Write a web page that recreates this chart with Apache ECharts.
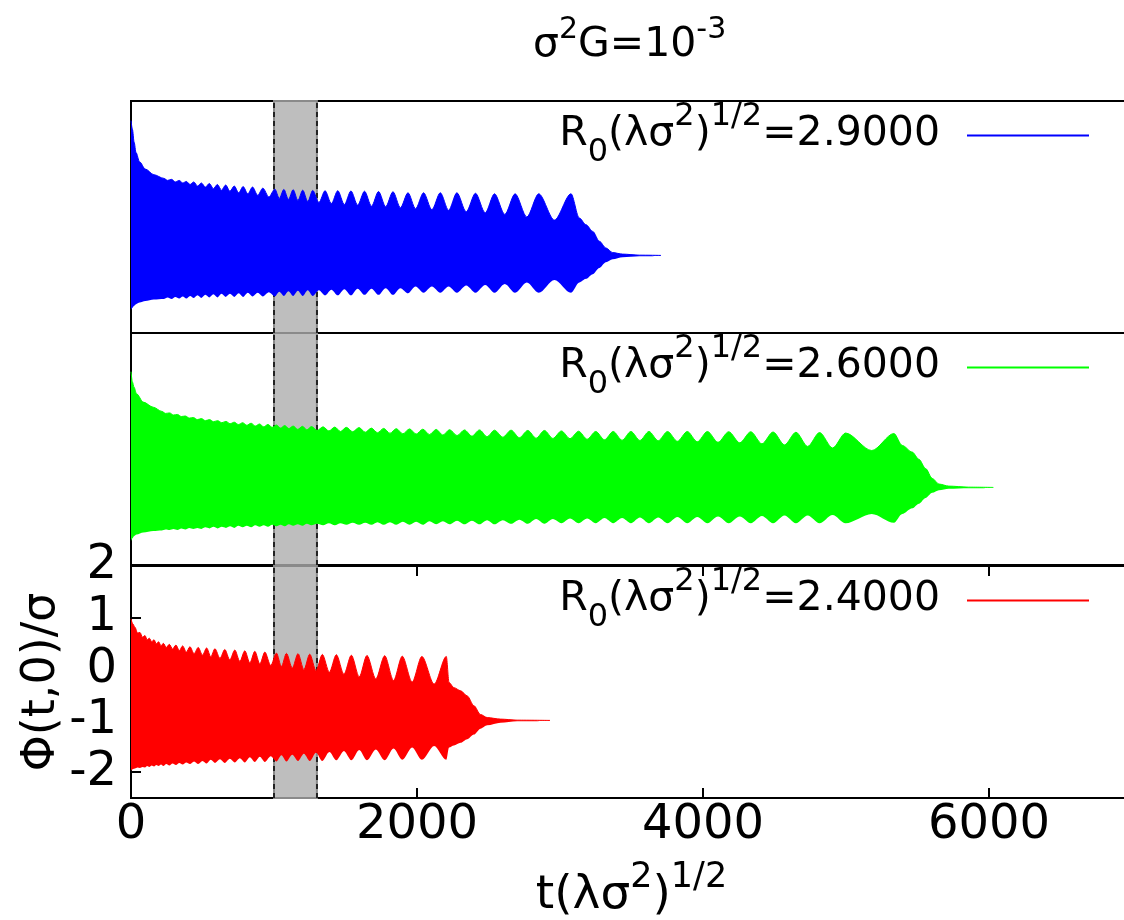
<!DOCTYPE html>
<html>
<head>
<meta charset="utf-8">
<script src="https://cdn.jsdelivr.net/npm/echarts@6/dist/echarts.min.js"></script>
<style>
html, body { margin: 0; padding: 0; background: #fff; }
#chart { width: 1124px; height: 920px; }
</style>
</head>
<body>
<div id="chart"></div>
<script>
// envelope of Phi(t,0)/sigma: times, upper edge, lower edge
var blueT = [0, 10, 22, 35, 60, 100, 160,
	229, 256, 284, 310, 337, 362, 387, 413, 439, 465, 492, 520, 548, 576, 604, 633, 662, 692, 722, 753, 784, 817, 850, 886, 922, 964,
	1006, 1037, 1069, 1101, 1134, 1167, 1201, 1236, 1271, 1314, 1357, 1401, 1446, 1492, 1538, 1585, 1633, 1682, 1731, 1781, 1832, 1884,
	1937, 1990, 2046, 2104, 2163, 2221, 2279, 2344, 2409, 2477, 2542, 2614, 2686, 2768, 2851, 2961, 3077,
	3135, 3182, 3229, 3275, 3321, 3368, 3438, 3554, 3706];
var blueHi = [1.62, 1.45, 1.20, 1.00, 0.82, 0.68, 0.57,
	0.50, 0.46, 0.48, 0.43, 0.46, 0.41, 0.44, 0.38, 0.43, 0.35, 0.41, 0.33, 0.40, 0.30, 0.38, 0.27, 0.37, 0.25, 0.35, 0.22, 0.34, 0.20, 0.33, 0.17, 0.31, 0.14,
	0.29, 0.11, 0.285, 0.09, 0.28, 0.07, 0.27, 0.05, 0.265, 0.03, 0.26, 0.01, 0.26, -0.01, 0.255, -0.02, 0.25, -0.04, 0.245, -0.05, 0.24, -0.07,
	0.22, -0.09, 0.22, -0.11, 0.22, -0.12, 0.22, -0.15, 0.21, -0.17, 0.20, -0.20, 0.20, -0.25, 0.20, -0.31, 0.20,
	-0.27, -0.40, -0.53, -0.72, -0.85, -0.94, -0.97, -0.99, -0.995];
var blueLo = [-2.05, -2.01, -1.97, -1.94, -1.91, -1.88, -1.85,
	-1.84, -1.81, -1.84, -1.80, -1.83, -1.79, -1.83, -1.78, -1.82, -1.77, -1.82, -1.76, -1.81, -1.75, -1.81, -1.74, -1.80, -1.74, -1.80, -1.73, -1.80, -1.72, -1.79, -1.72, -1.79, -1.71,
	-1.79, -1.70, -1.78, -1.69, -1.78, -1.68, -1.78, -1.67, -1.78, -1.67, -1.77, -1.66, -1.77, -1.65, -1.77, -1.64, -1.76, -1.64, -1.76, -1.63, -1.76, -1.63,
	-1.73, -1.60, -1.72, -1.60, -1.72, -1.60, -1.72, -1.58, -1.72, -1.57, -1.72, -1.55, -1.72, -1.52, -1.72, -1.47, -1.72,
	-1.52, -1.45, -1.36, -1.24, -1.13, -1.07, -1.03, -1.01, -1.005];

var greenT = [0, 10, 21, 39, 86, 156,
	215, 242, 270, 297, 325, 352, 380, 408, 436, 464, 492, 520, 549, 577, 606, 635, 664, 693, 722, 751, 781, 810, 840, 869, 899, 928, 958, 987,
	1017, 1046, 1075, 1104, 1134, 1166, 1199, 1230, 1262, 1302, 1343, 1384, 1425, 1465, 1506, 1550, 1595, 1638, 1681, 1724, 1767, 1811, 1855, 1901, 1948, 1994,
	2041, 2087, 2134, 2181, 2228, 2280, 2332, 2384, 2437, 2490, 2542, 2600, 2658, 2716, 2775, 2833, 2891, 2950,
	3010, 3070, 3130, 3190, 3250, 3311, 3372, 3434, 3496, 3559, 3622, 3687, 3752, 3821, 3890, 3960,
	4031, 4105, 4180, 4257, 4334, 4412, 4490, 4570, 4650, 4732, 4815, 4906, 4997, 5180, 5335,
	5393, 5463, 5510, 5557, 5603, 5650, 5719, 5858, 6030];
var greenHi = [1.25, 1.05, 0.95, 0.82, 0.66, 0.56,
	0.48, 0.44, 0.45, 0.41, 0.42, 0.38, 0.39, 0.35, 0.36, 0.32, 0.34, 0.30, 0.32, 0.28, 0.30, 0.26, 0.285, 0.24, 0.27, 0.225, 0.26, 0.21, 0.25, 0.195, 0.235, 0.18, 0.225, 0.17,
	0.215, 0.155, 0.205, 0.145, 0.195, 0.13, 0.19, 0.12, 0.185, 0.11, 0.18, 0.10, 0.175, 0.09, 0.17, 0.085, 0.165, 0.075, 0.155, 0.065, 0.15, 0.055, 0.145, 0.045, 0.14, 0.04,
	0.135, 0.03, 0.13, 0.02, 0.125, 0.01, 0.12, 0.0, 0.12, -0.01, 0.115, -0.02, 0.115, -0.03, 0.11, -0.04, 0.11, -0.045,
	0.10, -0.05, 0.095, -0.06, 0.09, -0.07, 0.09, -0.08, 0.09, -0.085, 0.09, -0.09, 0.09, -0.10, 0.09, -0.11,
	0.09, -0.12, 0.085, -0.13, 0.085, -0.15, 0.08, -0.17, 0.075, -0.20, 0.07, -0.23, 0.06, -0.28, 0.05,
	-0.18, -0.31, -0.45, -0.63, -0.82, -0.93, -0.97, -0.99, -0.995];
var greenLo = [-2.04, -1.98, -1.94, -1.91, -1.87, -1.84,
	-1.83, -1.81, -1.82, -1.80, -1.82, -1.79, -1.81, -1.78, -1.80, -1.78, -1.80, -1.77, -1.79, -1.76, -1.79, -1.76, -1.78, -1.75, -1.78, -1.74, -1.77, -1.74, -1.77, -1.73, -1.76, -1.73, -1.76, -1.72,
	-1.75, -1.72, -1.75, -1.71, -1.74, -1.71, -1.74, -1.70, -1.73, -1.70, -1.73, -1.69, -1.73, -1.69, -1.72, -1.68, -1.72, -1.68, -1.72, -1.67, -1.72, -1.67, -1.72, -1.66, -1.72, -1.66,
	-1.72, -1.65, -1.71, -1.65, -1.71, -1.64, -1.71, -1.64, -1.71, -1.63, -1.71, -1.63, -1.70, -1.62, -1.70, -1.61, -1.70, -1.61,
	-1.69, -1.60, -1.69, -1.60, -1.69, -1.59, -1.69, -1.59, -1.69, -1.58, -1.69, -1.58, -1.69, -1.57, -1.69, -1.57,
	-1.69, -1.56, -1.69, -1.56, -1.69, -1.55, -1.69, -1.54, -1.69, -1.54, -1.69, -1.53, -1.69, -1.51, -1.68,
	-1.51, -1.40, -1.31, -1.20, -1.10, -1.05, -1.02, -1.01, -1.005];

var redT = [0, 12,
	28, 45, 63, 80, 98, 113, 128, 145, 161, 177, 193, 210, 226, 247, 268, 291, 314, 338, 361, 387, 412, 441, 470, 500, 529, 558, 587, 622,
	656, 691, 726, 761, 796, 831, 866, 901, 936, 977, 1017, 1052, 1087, 1128, 1168, 1209, 1250, 1294, 1338, 1387, 1436, 1489,
	1541, 1596, 1650, 1712, 1774, 1836, 1897, 1966, 2034, 2120, 2205,
	2224, 2258, 2305, 2351, 2398, 2444, 2491, 2584, 2700, 2930];
var redHi = [0.97, 0.88,
	0.81, 0.70, 0.71, 0.62, 0.65, 0.57, 0.60, 0.53, 0.57, 0.49, 0.53, 0.45, 0.50, 0.42, 0.48, 0.39, 0.466, 0.36, 0.45, 0.33, 0.434, 0.30, 0.42, 0.27, 0.41, 0.24, 0.395, 0.21,
	0.38, 0.18, 0.37, 0.15, 0.355, 0.12, 0.345, 0.10, 0.33, 0.07, 0.31, 0.05, 0.305, 0.02, 0.30, -0.01, 0.29, -0.03, 0.285, -0.06, 0.28, -0.10,
	0.27, -0.15, 0.265, -0.19, 0.26, -0.22, 0.25, -0.25, 0.245, -0.29, 0.245,
	-0.26, -0.36, -0.42, -0.52, -0.71, -0.88, -0.94, -0.97, -0.99, -0.995];
var redLo = [-1.97, -1.94,
	-1.93, -1.91, -1.92, -1.90, -1.91, -1.88, -1.90, -1.87, -1.89, -1.86, -1.88, -1.85, -1.88, -1.84, -1.87, -1.83, -1.86, -1.82, -1.85, -1.81, -1.84, -1.79, -1.84, -1.78, -1.83, -1.76, -1.82, -1.75,
	-1.82, -1.74, -1.81, -1.73, -1.81, -1.71, -1.80, -1.70, -1.80, -1.69, -1.79, -1.67, -1.79, -1.66, -1.78, -1.64, -1.78, -1.62, -1.78, -1.61, -1.77, -1.59,
	-1.77, -1.57, -1.77, -1.56, -1.77, -1.54, -1.76, -1.52, -1.76, -1.49, -1.76,
	-1.52, -1.48, -1.43, -1.36, -1.27, -1.155, -1.09, -1.04, -1.01, -1.005];

var radii = ['2.9000', '2.6000', '2.4000'];
var colours = ['#0000ff', '#00ff00', '#ff0000'];
var xTicks = [0, 2000, 4000, 6000];
var yTicks = [-2, -1, 0, 1, 2];
var shade = [1000, 1300];

var FONT = 'DejaVu Sans';
var gridTops = [101, 333, 566];
var gridH = 232;

// text pieces: base size, superscript and subscript
var rich = {
	b: { fontSize: 41, fontFamily: FONT, color: '#000', verticalAlign: 'bottom', padding: [0, 0, 15, 0] },
	sup: { fontSize: 32, fontFamily: FONT, color: '#000', verticalAlign: 'bottom', padding: [0, 0, 37, 0] },
	sub: { fontSize: 32, fontFamily: FONT, color: '#000', verticalAlign: 'bottom', padding: [0, 0, 1, 0] },
	g: { width: 22, fontSize: 10 }
};

function envelope(k, name, T, Hi, Lo, colour) { // band between lower and upper edge, stacked on y
	var lower = [], width = [];
	for (var i = 0; i < T.length; i++) {
		// value first so that the stack goes on the y dimension
		lower.push([Lo[i], T[i]]);
		width.push([Math.round((Hi[i] - Lo[i]) * 1000) / 1000, T[i]]);
	}
	var common = {
		type: 'line', xAxisIndex: k, yAxisIndex: k, stack: 'env' + k, stackStrategy: 'all',
		encode: { x: 1, y: 0 },
		smooth: 0.3, smoothMonotone: 'x', symbol: 'none', showSymbol: false, silent: true, z: 3
	};
	var s1 = Object.assign({}, common, {
		name: name + ' lo', data: lower, lineStyle: { width: 0, opacity: 0 },
		markArea: {
			silent: true, z: 1,
			itemStyle: { color: '#bebebe', borderColor: '#8a8a8a', borderWidth: 2 },
			data: [[{ xAxis: shade[0] }, { xAxis: shade[1] }]]
		},
		markLine: {
			silent: true, z: 2, symbol: ['none', 'none'], label: { show: false },
			lineStyle: { color: '#000', type: [5, 4], width: 1.5 },
			data: [{ xAxis: shade[0] }, { xAxis: shade[1] }]
		}
	});
	var s2 = Object.assign({}, common, {
		name: name, data: width,
		itemStyle: { color: colour },
		lineStyle: { color: colour, width: 1 },
		areaStyle: { color: colour, opacity: 1 }
	});
	return [s1, s2];
}

var names = radii.map(function(r) { return 'R0=' + r; });
var series = [];
series = series.concat(envelope(0, names[0], blueT, blueHi, blueLo, colours[0]));
series = series.concat(envelope(1, names[1], greenT, greenHi, greenLo, colours[1]));
series = series.concat(envelope(2, names[2], redT, redHi, redLo, colours[2]));

var tickStyle = { color: '#000', width: 2 };
var lineBlack = { color: '#000', width: 2 };
var grids = [], xAxes = [], yAxes = [], legends = [];
for (var k = 0; k < 3; k++) {
	grids.push({ left: 131, right: -8, top: gridTops[k], height: gridH, show: true, borderColor: '#000', borderWidth: 2, outerBoundsMode: 'none' });
	xAxes.push({
		type: 'value', gridIndex: k, min: 0, max: 7000,
		axisLine: { show: k == 2, onZero: false, lineStyle: lineBlack }, splitLine: { show: false },
		axisTick: { show: k == 2, inside: true, length: 10, customValues: xTicks, lineStyle: tickStyle },
		axisLabel: {
			show: k == 2, customValues: xTicks, fontSize: 48, fontFamily: FONT, color: '#000', margin: 4,
			formatter: function(v) { return String(v); }
		}
	});
	yAxes.push({
		type: 'value', gridIndex: k, min: -2.5, max: 2,
		axisLine: { show: k == 2, onZero: false, lineStyle: lineBlack }, splitLine: { show: false },
		axisTick: { show: k == 2, inside: true, length: 10, customValues: yTicks, lineStyle: tickStyle },
		axisLabel: { show: k == 2, customValues: yTicks, fontSize: 48, fontFamily: FONT, color: '#000', margin: 14 }
	});
	legends.push({
		data: [names[k]], right: 35, top: gridTops[k], padding: 0, align: 'right',
		icon: 'rect', itemWidth: 122, itemHeight: 2, selectedMode: false,
		itemStyle: { borderWidth: 0 },
		formatter: (function(r) {
			return function() { return '{b|R}{sub|0}{b|(λσ}{sup|2}{b|)}{sup|1/2}{b|=' + r + '}{g| }'; };
		})(radii[k]),
		textStyle: { rich: rich }
	});
}
// mirror ticks on top of the lowest panel (second x axis of that grid sits on top)
xAxes.push({
	type: 'value', gridIndex: 2, min: 0, max: 7000,
	axisLine: { show: true, onZero: false, lineStyle: lineBlack }, splitLine: { show: false }, axisLabel: { show: false },
	axisTick: { show: true, inside: true, length: 10, customValues: xTicks, lineStyle: tickStyle }
});
xAxes[2].name = '{b|t(λσ}{s|2}{b|)}{s|1/2}';
xAxes[2].nameLocation = 'middle';
xAxes[2].nameGap = 62;
xAxes[2].nameMoveOverlap = false;
xAxes[2].nameTextStyle = { rich: {
	b: { fontSize: 47, fontFamily: FONT, color: '#000', verticalAlign: 'bottom' },
	s: { fontSize: 35, fontFamily: FONT, color: '#000', verticalAlign: 'bottom', padding: [0, 0, 24, 0] }
} };
yAxes[2].name = 'Φ(t,0)/σ';
yAxes[2].nameLocation = 'middle';
yAxes[2].nameRotate = 90;
yAxes[2].nameGap = 66;
yAxes[2].nameMoveOverlap = false;
yAxes[2].nameTextStyle = { fontSize: 46, fontFamily: FONT, color: '#000' };

var chart = echarts.init(document.getElementById('chart'));
chart.setOption({
	animation: false,
	backgroundColor: '#fff',
	title: {
		text: '{b|σ}{s|2}{b|G=10}{s|-3}', left: 533, top: 15, padding: 0,
		textStyle: { fontWeight: 'normal', rich: {
			b: { fontSize: 41, fontWeight: 'normal', fontFamily: FONT, color: '#000', verticalAlign: 'bottom' },
			s: { fontSize: 30, fontWeight: 'normal', fontFamily: FONT, color: '#000', verticalAlign: 'bottom', padding: [0, 0, 21, 0] }
		} }
	},
	legend: legends,
	grid: grids,
	xAxis: xAxes,
	yAxis: yAxes,
	series: series
});
</script>
</body>
</html>
